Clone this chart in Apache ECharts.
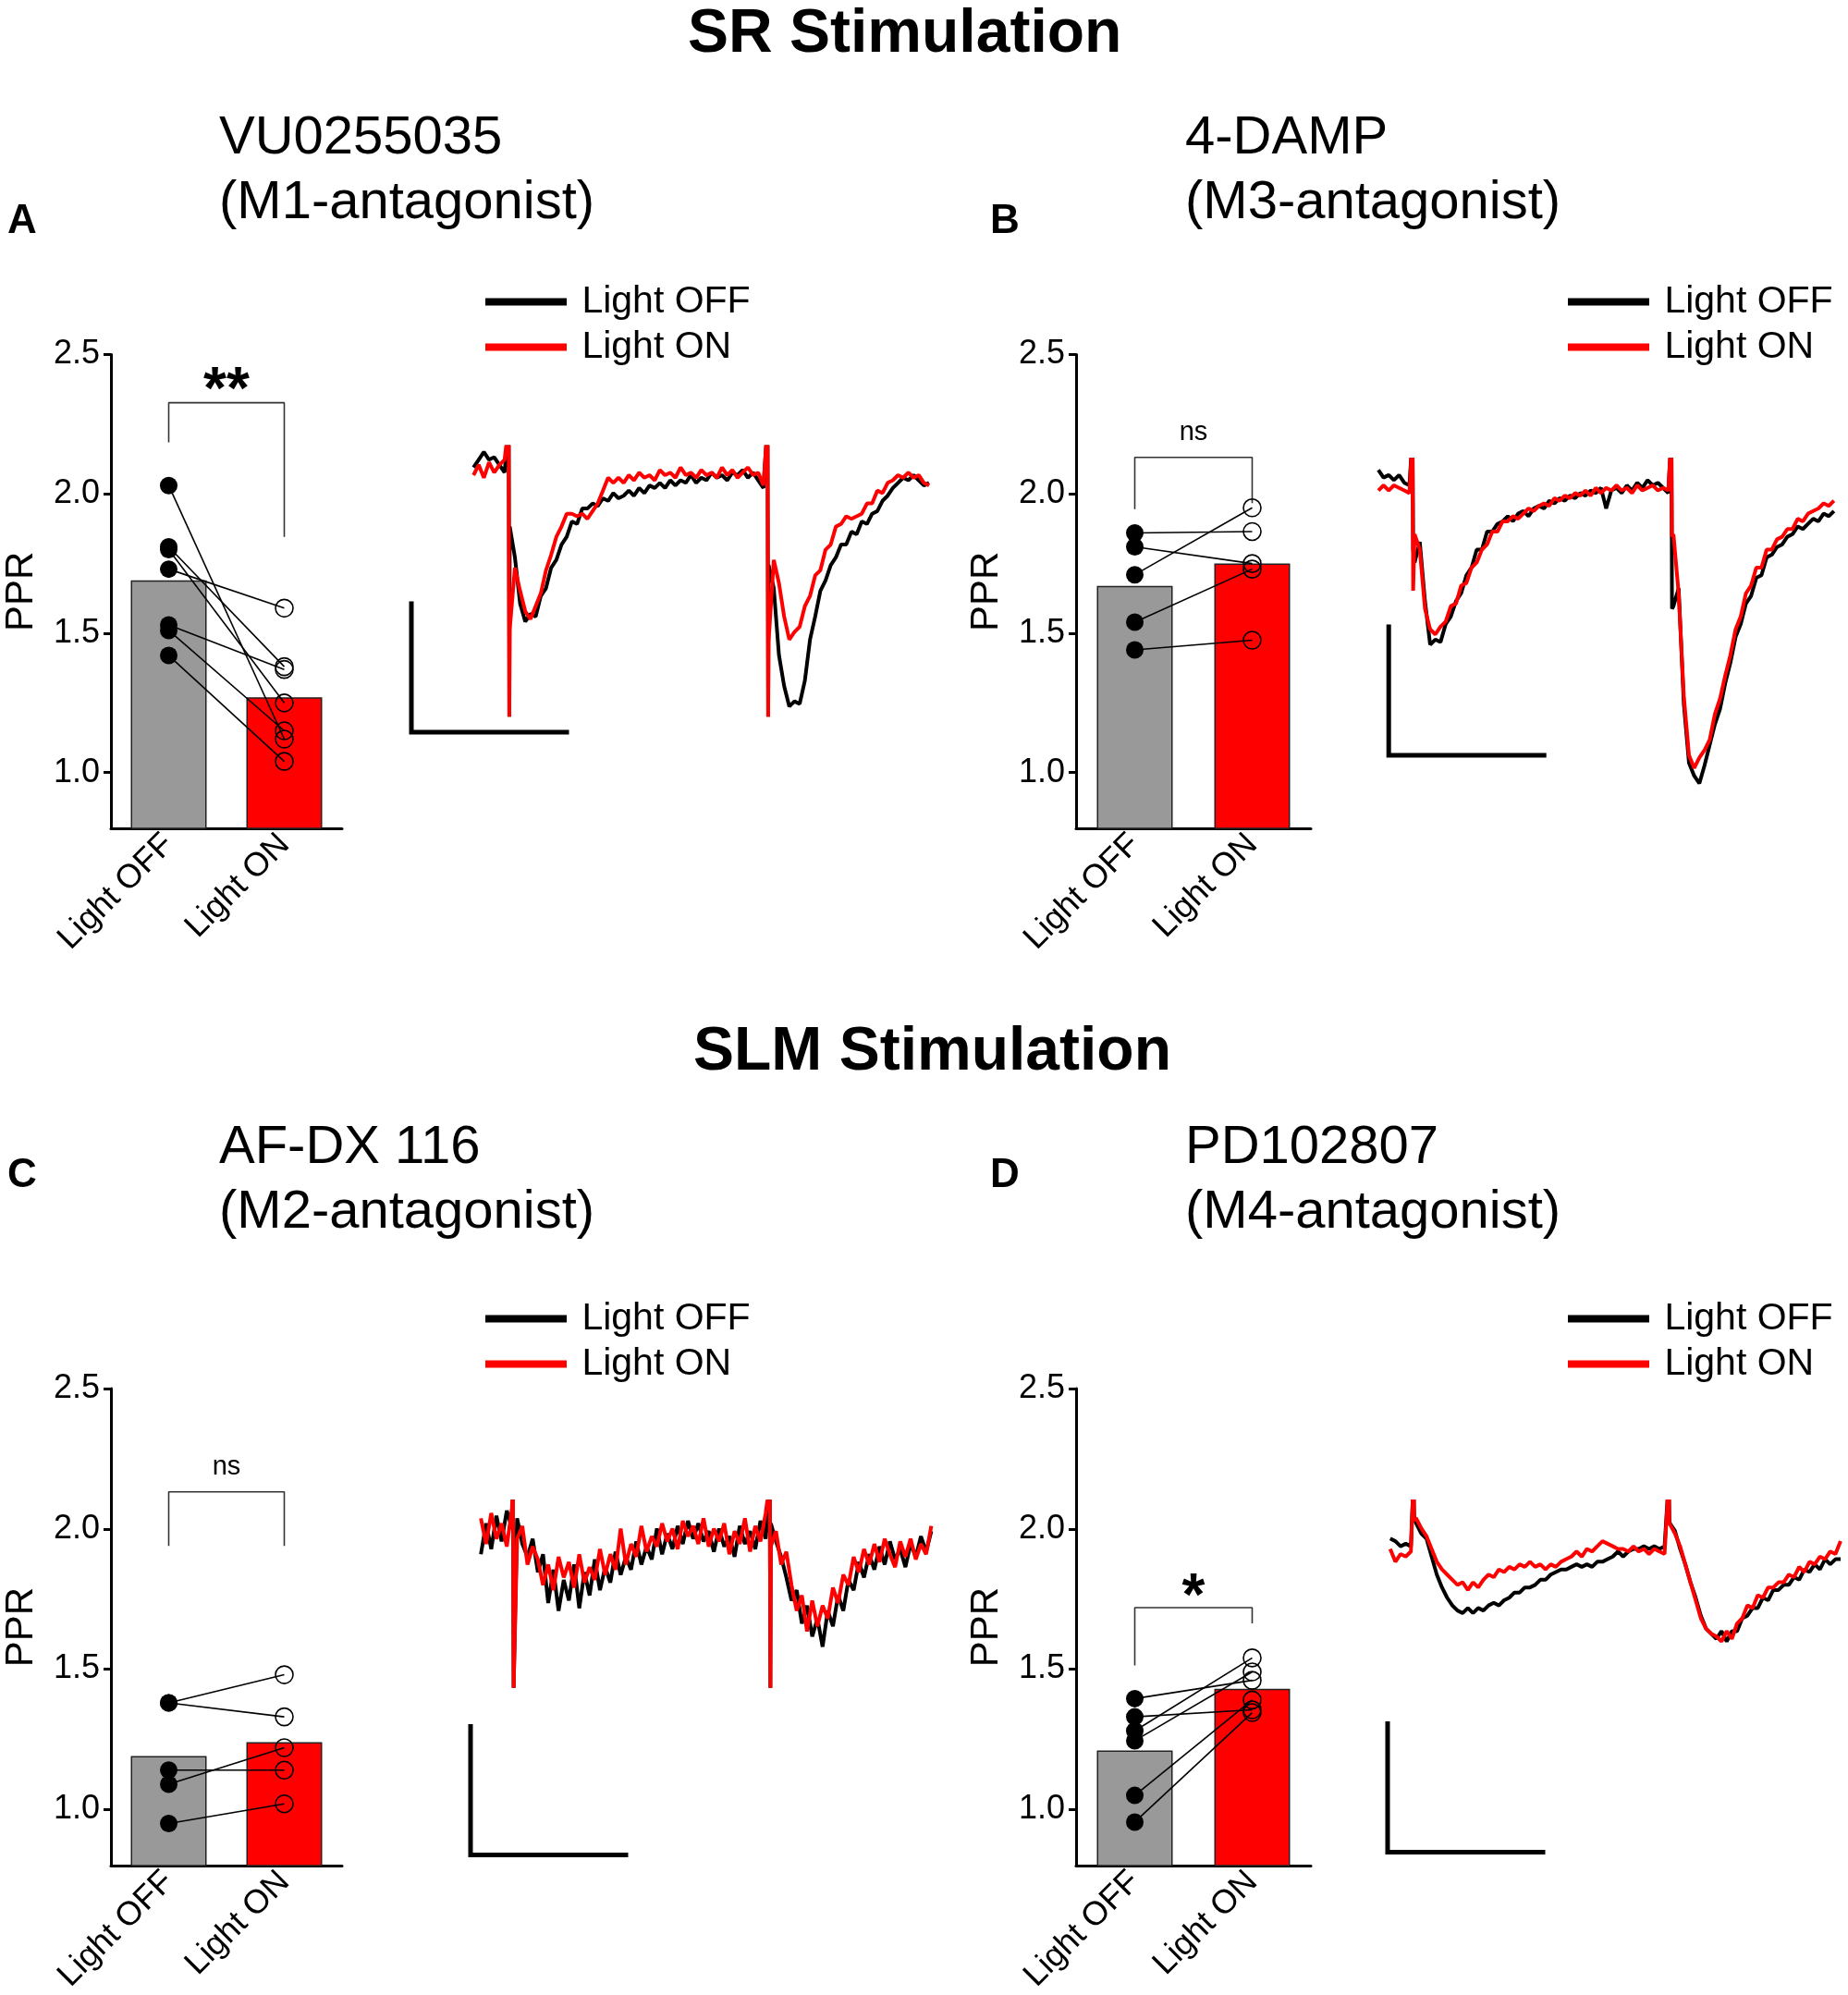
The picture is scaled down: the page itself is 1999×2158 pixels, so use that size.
<!DOCTYPE html>
<html><head><meta charset="utf-8">
<script src="https://cdn.jsdelivr.net/npm/echarts@6/dist/echarts.min.js"></script>
<style>html,body{margin:0;padding:0;background:#fff}#c{width:1999px;height:2158px}</style>
</head><body><div id="c"></div>
<script>
// ---------- DATA ----------
const categories = ['Light OFF', 'Light ON'];
const yTicks = [1.0, 1.5, 2.0, 2.5];
const legendNames = ['Light OFF', 'Light ON'];

// PPR bar panels (bar means, paired individual values)
const barA = [1.69, 1.27];
const offA = [2.03, 1.81, 1.80, 1.73, 1.53, 1.51, 1.42];
const onA  = [1.12, 1.38, 1.25, 1.59, 1.37, 1.15, 1.04];
const bracketA = [[0, 2.185], [0, 2.327], [1, 2.327], [1, 1.846]];
const sigA = '**', sigAy = 2.41;

const barB = [1.67, 1.75];
const offB = [1.86, 1.81, 1.71, 1.54, 1.44];
const onB  = [1.865, 1.75, 1.95, 1.73, 1.475];
const bracketB = [[0, 1.945], [0, 2.131], [1, 2.131], [1, 1.967]];
const sigB = 'ns', sigBy = 2.214;

const barC = [1.19, 1.24];
const offC = [1.38, 1.38, 1.14, 1.09, 0.95];
const onC  = [1.48, 1.33, 1.14, 1.22, 1.02];
const bracketC = [[0, 1.939], [0, 2.132], [1, 2.132], [1, 1.939]];
const sigC = 'ns', sigCy = 2.212;

const barD = [1.21, 1.43];
const offD = [1.395, 1.33, 1.28, 1.245, 1.05, 0.955];
const onD  = [1.46, 1.355, 1.54, 1.49, 1.39, 1.345];
const bracketD = [[0, 1.513], [0, 1.719], [1, 1.719], [1, 1.663]];
const sigD = '*', sigDy = 1.798;

// Example traces (pA, sampled every 1 ms starting at t0), artifacts: [time, peak, rebound]
const tA0 = 12;
const trA_off = [3,6,9,6,7,4,1,
 -20,-32,-50,-57,-54,-55,-47,-44,-36,-33,-27,-24,-18,-19,-13,
 -13,-11,-12,-9,-10,-7,-9,-8,-6,-8,-5,-7,-4,-5,-3,-5,-2,-4,-2,-3,0,-3,-1,-2,1,-1,0,-2,1,0,2,-1,1,-2,-5,
 -35,-44,-70,-82,-90,-88,-89,-80,-64,
 -55,-45,-41,-35,-32,-27,-27,-22,-23,-18,-19,-15,-14,-10,-8,-5,
 -3,-1,-2,0,-2,-4,-3];
const trA_on = [0,4,-1,5,1,4,6,
 -60,-36,-45,-53,-56,-51,-46,-37,-31,-24,-20,-15,-15,
 -16,-15,-17,-14,-11,-6,-1,-3,-1,-3,0,-2,1,-1,0,-2,2,0,1,-1,3,0,1,-1,2,0,1,-1,3,0,2,-1,1,3,0,1,-4,
 -65,-33,-42,
 -55,-64,-61,-59,-51,-47,-39,-37,-29,-27,-20,-19,-16,-17,-16,-15,-11,-11,-6,-7,-3,-2,
 0,-1,1,-1,0,-3,-4];
const artA_off = [[18.8, 20, -94], [68.8, 20, -94]];
const artA_on  = [[18.8, 20, -94], [68.8, 20, -94]];
const scaleA = [[0, -50], [0, -100], [30, -100]];

const tB0 = -2;
const trB_off = [6,3,4,2,4,1,0,
 -30,-22,
 -45,-62,-60,-61,-54,-51,-45,-42,-35,-32,-25,-25,-18,-18,-15,-14,
 -12,-14,-11,-10,-12,-9,-8,-9,-6,-7,-5,-6,-4,-5,-3,-4,-2,-3,
 -1,-9,-2,-1,-3,0,-2,1,-1,2,0,1,-1,-3,
 -47,-40,
 -85,-108,-113,-116,-109,-101,-93,-87,-77,-69,-59,-54,-46,-43,-36,-35,-28,-27,-24,-23,-20,-19,-16,-17,
 -15,-13,-14,-11,-12,-10];
const trB_on = [-2,0,-2,0,-1,-2,-3,
 -19,-25,
 -48,-56,-58,-55,-53,-47,-46,-39,-38,-32,-30,-25,-23,-18,-18,-14,
 -14,-12,-13,-11,-9,-10,-8,-7,-8,-5,-6,-4,-5,-3,-4,-2,-4,-1,
 -3,-1,-2,0,-2,-1,-3,0,-2,-1,0,-2,-1,-2,
 -19,-42,
 -82,-105,-110,-106,-103,-99,-89,-83,-74,-66,-56,-51,-42,-39,-32,-32,-25,-25,-21,-20,-17,-17,-13,-14,
 -11,-10,-9,-7,-8,-6];
const artB_off = [[4.6, 20, -25], [54.6, 20, -48]];
const artB_on  = [[4.6, 20, -41], [54.6, 20, -20]];
const scaleB = [[0, -55], [0, -105], [30, -105]];

const tC0 = 2;
const trC_off = [-8,4,-6,7,-3,9,2,
 6,-4,-9,-2,-15,-8,-27,-14,-30,-18,-26,-12,-29,-15,-24,-10,-22,-13,-19,-7,-16,-9,-14,-3,-12,-5,-10,2,-8,0,-6,3,-4,5,-2,4,-3,1,-7,2,-5,-1,-9,3,-4,1,-6,5,-2,
 4,-3,-9,-17,-26,-22,-35,-28,-40,-33,-44,-30,-36,-24,-30,-18,-22,-11,-17,-8,-14,-5,-12,-3,-10,-6,-13,-4,-9,-1,-7,1];
const trC_on = [6,-4,8,-2,4,-5,10,
 -2,3,-12,-5,-10,-20,-12,-22,-9,-17,-11,-21,-8,-19,-13,-18,-6,-16,-8,-14,2,-12,-4,-9,3,-7,-1,-5,4,-3,2,-6,5,-1,3,-4,6,-5,2,-3,4,-8,1,-4,6,-7,3,-3,8,
 -5,1,-12,-7,-20,-30,-24,-38,-26,-36,-28,-33,-21,-27,-16,-20,-9,-15,-6,-12,-4,-11,-2,-8,-13,-3,-9,-2,-10,-4,-8,3];
const artC_off = [[8.2, 20, -60], [57.8, 20, -60]];
const artC_on  = [[8.2, 20, -60], [57.8, 20, -60]];
const scaleC = [[0, -75], [0, -125], [30, -125]];

const tD0 = 0.5;
const trD_off = [-3,-4,-6,-5,-6,
 3,-1,-3,-10,-17,-22,-26,-29,-31,-32,-30,-32,-30,-31,-29,-28,-29,-27,-26,-24,-24,-22,-22,-21,-19,-19,-17,-16,-15,-15,-14,-13,-14,-13,-14,-12,-12,-11,-10,-8,-10,-8,-7,-7,-6,-7,-6,-7,-6,
 3,0,-7,-13,-20,-26,-33,-38,-40,-42,-39,-43,-39,-39,-34,-33,-30,-30,-26,-27,-23,-23,-21,-21,-18,-19,-15,-16,-13,-15,-11,-13,-11,-11];
const trD_on = [-7,-12,-9,-10,-8,
 5,1,-2,-7,-12,-15,-17,-19,-21,-20,-23,-20,-22,-19,-17,-18,-15,-16,-14,-15,-13,-14,-12,-14,-13,-15,-13,-14,-12,-11,-10,-8,-10,-7,-8,-6,-4,-5,-6,-7,-7,-8,-6,-8,-7,-9,-7,-8,-9,
 3,-1,-6,-13,-20,-27,-34,-38,-40,-41,-43,-39,-42,-36,-34,-29,-30,-25,-26,-22,-22,-20,-20,-17,-18,-14,-16,-12,-13,-10,-11,-8,-9,-4];
const artD_off = [[5.0, 20, 6], [54.3, 20, 5]];
const artD_on  = [[5.0, 20, 4], [54.3, 20, 3]];
const scaleD = [[0, -75], [0, -125], [30, -125]];

// ---------- LAYOUT / STYLE ----------
const FONT = '"Liberation Sans", Arial, Helvetica, sans-serif';
const RED = '#ff0000', GRAY = '#999999', BLACK = '#000000';

const barPanels = [
  {key:'A', grid:{left:120, top:383.5, width:250, height:512.5}, bars:barA, off:offA, on:onA, bracket:bracketA, sig:sigA, sigY:sigAy},
  {key:'B', grid:{left:1164, top:383.5, width:254, height:512.5}, bars:barB, off:offB, on:onB, bracket:bracketB, sig:sigB, sigY:sigBy},
  {key:'C', grid:{left:120, top:1502, width:250, height:517.5}, bars:barC, off:offC, on:onC, bracket:bracketC, sig:sigC, sigY:sigCy},
  {key:'D', grid:{left:1164, top:1502, width:254, height:517.5}, bars:barD, off:offD, on:onD, bracket:bracketD, sig:sigD, sigY:sigDy}
];
const sigStyle = {'**':{size:64, bold:true, dy:14}, '*':{size:64, bold:true, dy:14}, 'ns':{size:29, bold:false, dy:-2}};

const tracePanels = [
  {grid:{left:445, top:483.4, width:560, height:308.6}, x:[0,100], y:[-100,11], t0:tA0, off:trA_off, on:trA_on, artOff:artA_off, artOn:artA_on, scale:scaleA, legend:[525, 306]},
  {grid:{left:1491, top:497.2, width:492.8, height:361.4}, x:[-2,86], y:[-120,10], t0:tB0, off:trB_off, on:trB_on, artOff:artB_off, artOn:artB_on, scale:scaleB, legend:[1696, 306]},
  {grid:{left:509, top:1624.25, width:504, height:382.25}, x:[0,90], y:[-125,12.5], t0:tC0, off:trC_off, on:trC_on, artOff:artC_off, artOn:artC_on, scale:scaleC, legend:[525, 1406]},
  {grid:{left:1501, top:1624, width:492.8, height:379.5}, x:[0,88], y:[-125,11.5], t0:tD0, off:trD_off, on:trD_on, artOff:artD_off, artOn:artD_on, scale:scaleD, legend:[1696, 1406]}
];

function buildTrace(t0, vals, arts) {
  const pts = vals.map((v, i) => [t0 + i, v]);
  arts.forEach(a => { pts.push([a[0], a[1]]); pts.push([a[0] + 0.12, a[2]]); });
  pts.sort((p, q) => p[0] - q[0]);
  return pts;
}

const grids = [], xAxes = [], yAxes = [], series = [], legends = [];

barPanels.forEach(p => {
  const gi = grids.length;
  grids.push(Object.assign({}, p.grid));
  const xc = xAxes.length;
  xAxes.push({type:'category', gridIndex:gi, data:categories,
    axisLine:{onZero:false, lineStyle:{color:BLACK, width:3}},
    axisTick:{alignWithLabel:true, length:11, lineStyle:{color:BLACK, width:3}},
    axisLabel:{rotate:45, fontSize:36, color:BLACK, margin:12, interval:0, fontFamily:FONT},
    splitLine:{show:false}});
  const xv = xAxes.length;
  xAxes.push({type:'value', gridIndex:gi, min:-0.5, max:1.5, show:false, axisLine:{onZero:false}});
  const yi = yAxes.length;
  yAxes.push({type:'value', gridIndex:gi, min:0.8, max:2.5,
    name:'PPR', nameLocation:'middle', nameGap:76, nameRotate:90,
    nameTextStyle:{fontSize:42, color:BLACK, fontFamily:FONT},
    axisLine:{show:true, onZero:false, lineStyle:{color:BLACK, width:3}},
    axisTick:{show:true, customValues:yTicks, length:8, lineStyle:{color:BLACK, width:3}},
    axisLabel:{customValues:yTicks, formatter:v => Number(v).toFixed(1), fontSize:36, color:BLACK, margin:12, fontFamily:FONT},
    splitLine:{show:false}});
  series.push({type:'bar', name:'bars ' + p.key, xAxisIndex:xc, yAxisIndex:yi, barWidth:82,
    data:p.bars.map((v, i) => ({value:v, itemStyle:{color: i ? RED : GRAY}})),
    itemStyle:{borderColor:'#222', borderWidth:1.5, opacity:1}, z:2, silent:true});
  p.off.forEach((v, i) => {
    series.push({type:'line', name:'pair', xAxisIndex:xv, yAxisIndex:yi, data:[[0, v], [1, p.on[i]]],
      symbol:'none', lineStyle:{color:BLACK, width:1.6}, z:3, silent:true});
  });
  series.push({type:'scatter', name:'off pts', xAxisIndex:xv, yAxisIndex:yi, data:p.off.map(v => [0, v]),
    symbolSize:19, itemStyle:{color:BLACK, opacity:1}, z:4, silent:true});
  series.push({type:'scatter', name:'on pts', xAxisIndex:xv, yAxisIndex:yi, data:p.on.map(v => [1, v]),
    symbolSize:19, itemStyle:{color:'rgba(0,0,0,0)', borderColor:BLACK, borderWidth:1.6, opacity:1}, z:4, silent:true});
  series.push({type:'line', name:'bracket', xAxisIndex:xv, yAxisIndex:yi, data:p.bracket,
    symbol:'none', lineStyle:{color:'#333', width:1.6}, z:3, silent:true});
  const ss = sigStyle[p.sig];
  series.push({type:'scatter', name:'sig', xAxisIndex:xv, yAxisIndex:yi, data:[[0.5, p.sigY]],
    symbolSize:1, itemStyle:{color:'rgba(0,0,0,0)'}, z:5, silent:true,
    label:{show:true, position:'inside', formatter:p.sig, fontSize:ss.size, fontWeight:ss.bold ? 'bold' : 'normal',
      color:BLACK, opacity:1, offset:[0, ss.dy], fontFamily:FONT}});
});

tracePanels.forEach(p => {
  const gi = grids.length;
  grids.push(Object.assign({}, p.grid));
  const xi = xAxes.length;
  xAxes.push({type:'value', gridIndex:gi, min:p.x[0], max:p.x[1], show:false});
  const yi = yAxes.length;
  yAxes.push({type:'value', gridIndex:gi, min:p.y[0], max:p.y[1], show:false});
  series.push({type:'line', name:'Light OFF', color:BLACK, xAxisIndex:xi, yAxisIndex:yi,
    data:buildTrace(p.t0, p.off, p.artOff), showSymbol:false, symbol:'none',
    lineStyle:{color:BLACK, width:4}, itemStyle:{color:BLACK}, z:3, silent:true});
  series.push({type:'line', name:'Light ON', color:RED, xAxisIndex:xi, yAxisIndex:yi,
    data:buildTrace(p.t0, p.on, p.artOn), showSymbol:false, symbol:'none',
    lineStyle:{color:RED, width:4}, itemStyle:{color:RED}, z:4, silent:true});
  series.push({type:'line', name:'scale bar', xAxisIndex:xi, yAxisIndex:yi, data:p.scale, clip:false,
    symbol:'none', lineStyle:{color:BLACK, width:5, join:'miter', cap:'square'}, z:3, silent:true});
  legends.push({data:legendNames, orient:'vertical', left:p.legend[0], top:p.legend[1],
    itemWidth:88, itemHeight:8, icon:'rect', itemGap:8, selectedMode:false, padding:0,
    formatter:n => ' ' + n, textStyle:{fontSize:41, color:BLACK, fontFamily:FONT}});
});

const titles = [
  {text:'SR Stimulation', left:744, top:5, textStyle:{fontSize:66, fontWeight:'bold'}},
  {text:'SLM Stimulation', left:750, top:1106, textStyle:{fontSize:66, fontWeight:'bold'}},
  {text:'VU0255035\n(M1-antagonist)', left:237, top:115, textStyle:{fontSize:58, fontWeight:'normal', lineHeight:70}},
  {text:'4-DAMP\n(M3-antagonist)', left:1282, top:115, textStyle:{fontSize:58, fontWeight:'normal', lineHeight:70}},
  {text:'AF-DX 116\n(M2-antagonist)', left:237, top:1207, textStyle:{fontSize:58, fontWeight:'normal', lineHeight:70}},
  {text:'PD102807\n(M4-antagonist)', left:1282, top:1207, textStyle:{fontSize:58, fontWeight:'normal', lineHeight:70}},
  {text:'A', left:8, top:218, textStyle:{fontSize:44, fontWeight:'bold'}},
  {text:'B', left:1071, top:218, textStyle:{fontSize:44, fontWeight:'bold'}},
  {text:'C', left:8, top:1250, textStyle:{fontSize:44, fontWeight:'bold'}},
  {text:'D', left:1071, top:1250, textStyle:{fontSize:44, fontWeight:'bold'}}
].map(t => { t.padding = 0; t.textStyle.color = BLACK; t.textStyle.fontFamily = FONT; return t; });

const chart = echarts.init(document.getElementById('c'), null, {renderer:'canvas'});
chart.setOption({
  animation:false,
  backgroundColor:'#ffffff',
  textStyle:{fontFamily:FONT},
  title:titles,
  legend:legends,
  grid:grids,
  xAxis:xAxes,
  yAxis:yAxes,
  series:series
});
</script>
</body></html>
